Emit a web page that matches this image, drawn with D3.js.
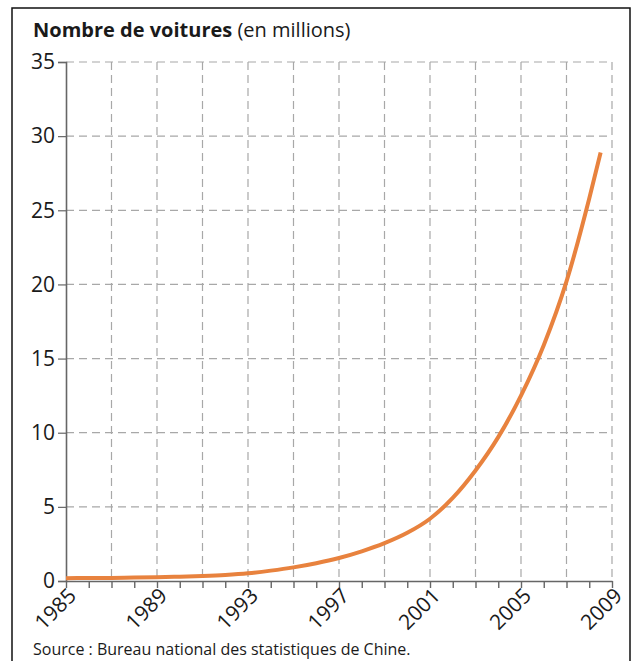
<!DOCTYPE html>
<html><head><meta charset="utf-8">
<script src="https://cdn.jsdelivr.net/npm/d3@7"></script>
<style>
html,body{margin:0;padding:0;background:#fff;}
svg{display:block;}
text{font-family:"Open Sans","Noto Sans",sans-serif;fill:#1a1a1a;}
</style></head><body>
<svg id="c" width="632" height="661"></svg>
<script>
const years = [1985,1986,1987,1988,1989,1990,1991,1992,1993,1994,1995,1996,1997,1998,1999,2000,2001,2002,2003,2004,2005,2006,2007,2008,2008.5];
const cars  = [0.19,0.2,0.21,0.23,0.25,0.29,0.34,0.41,0.52,0.7,0.92,1.2,1.55,2.0,2.55,3.25,4.2,5.6,7.45,9.7,12.5,15.9,20.2,25.8,28.9];
const yTicks = [0,5,10,15,20,25,30,35];
const xLabels = [1985,1989,1993,1997,2001,2005,2009];
const xGrid = [1987,1989,1991,1993,1995,1997,1999,2001,2003,2005,2007,2009];
const xMinor = d3.range(1985,2010);

const svg = d3.select("#c");
const x = d3.scaleLinear().domain([1985,2009]).range([66,612]);
const y = d3.scaleLinear().domain([0,35]).range([581,62]);

// frame
svg.append("path").attr("d","M12,670 V8 H630 V670").attr("fill","none").attr("stroke","#111").attr("stroke-width",1.5);

// title
const t = svg.append("text").attr("x",33).attr("y",37).attr("font-size",20);
t.append("tspan").attr("font-weight","bold").text("Nombre de voitures");
t.append("tspan").text(" (en millions)");

// grid
const g = svg.append("g");
g.selectAll(".hg").data(yTicks.filter(d=>d>0)).join("line")
 .attr("x1",66).attr("x2",612).attr("y1",d=>y(d)).attr("y2",d=>y(d))
 .attr("stroke","#a8a8a8").attr("stroke-width",1.2).attr("stroke-dasharray","8,5");
g.selectAll(".vg").data(xGrid).join("line")
 .attr("x1",d=>x(d)).attr("x2",d=>x(d)).attr("y1",62).attr("y2",581)
 .attr("stroke","#a8a8a8").attr("stroke-width",1.2).attr("stroke-dasharray","8,5");

// y axis
const ya = svg.append("g").attr("transform","translate(66,0)")
 .call(d3.axisLeft(y).tickValues(yTicks).tickSize(8).tickPadding(3));
ya.select(".domain").attr("stroke","#666").attr("stroke-width",1.6);
ya.selectAll(".tick line").attr("stroke","#666").attr("stroke-width",1.2);
ya.selectAll(".tick text").attr("font-size",21).attr("fill","#1a1a1a").attr("font-family","'Open Sans','Noto Sans',sans-serif");

// x axis
const xa = svg.append("g").attr("transform","translate(0,581)")
 .call(d3.axisBottom(x).tickValues(xMinor).tickSize(7).tickSizeOuter(0).tickFormat(d=>xLabels.includes(d)?String(d):""));
xa.select(".domain").attr("stroke","#666").attr("stroke-width",1.6);
xa.selectAll(".tick line").attr("stroke","#666").attr("stroke-width",1.4);
xa.selectAll(".tick text").attr("font-size",21).attr("fill","#1a1a1a")
 .attr("font-family","'Open Sans','Noto Sans',sans-serif")
 .attr("text-anchor","end").attr("dy",0).attr("y",0)
 .attr("transform","translate(11,16) rotate(-45)");

// line
const line = d3.line().x((d,i)=>x(years[i])).y(d=>y(d)).curve(d3.curveMonotoneX);
svg.append("path").datum(cars).attr("d",line).attr("fill","none")
 .attr("stroke","#E8823E").attr("stroke-width",4).attr("stroke-linecap","butt");

// source
svg.append("text").attr("x",33).attr("y",655).attr("font-size",16)
 .text("Source : Bureau national des statistiques de Chine.");
</script>
</body></html>
